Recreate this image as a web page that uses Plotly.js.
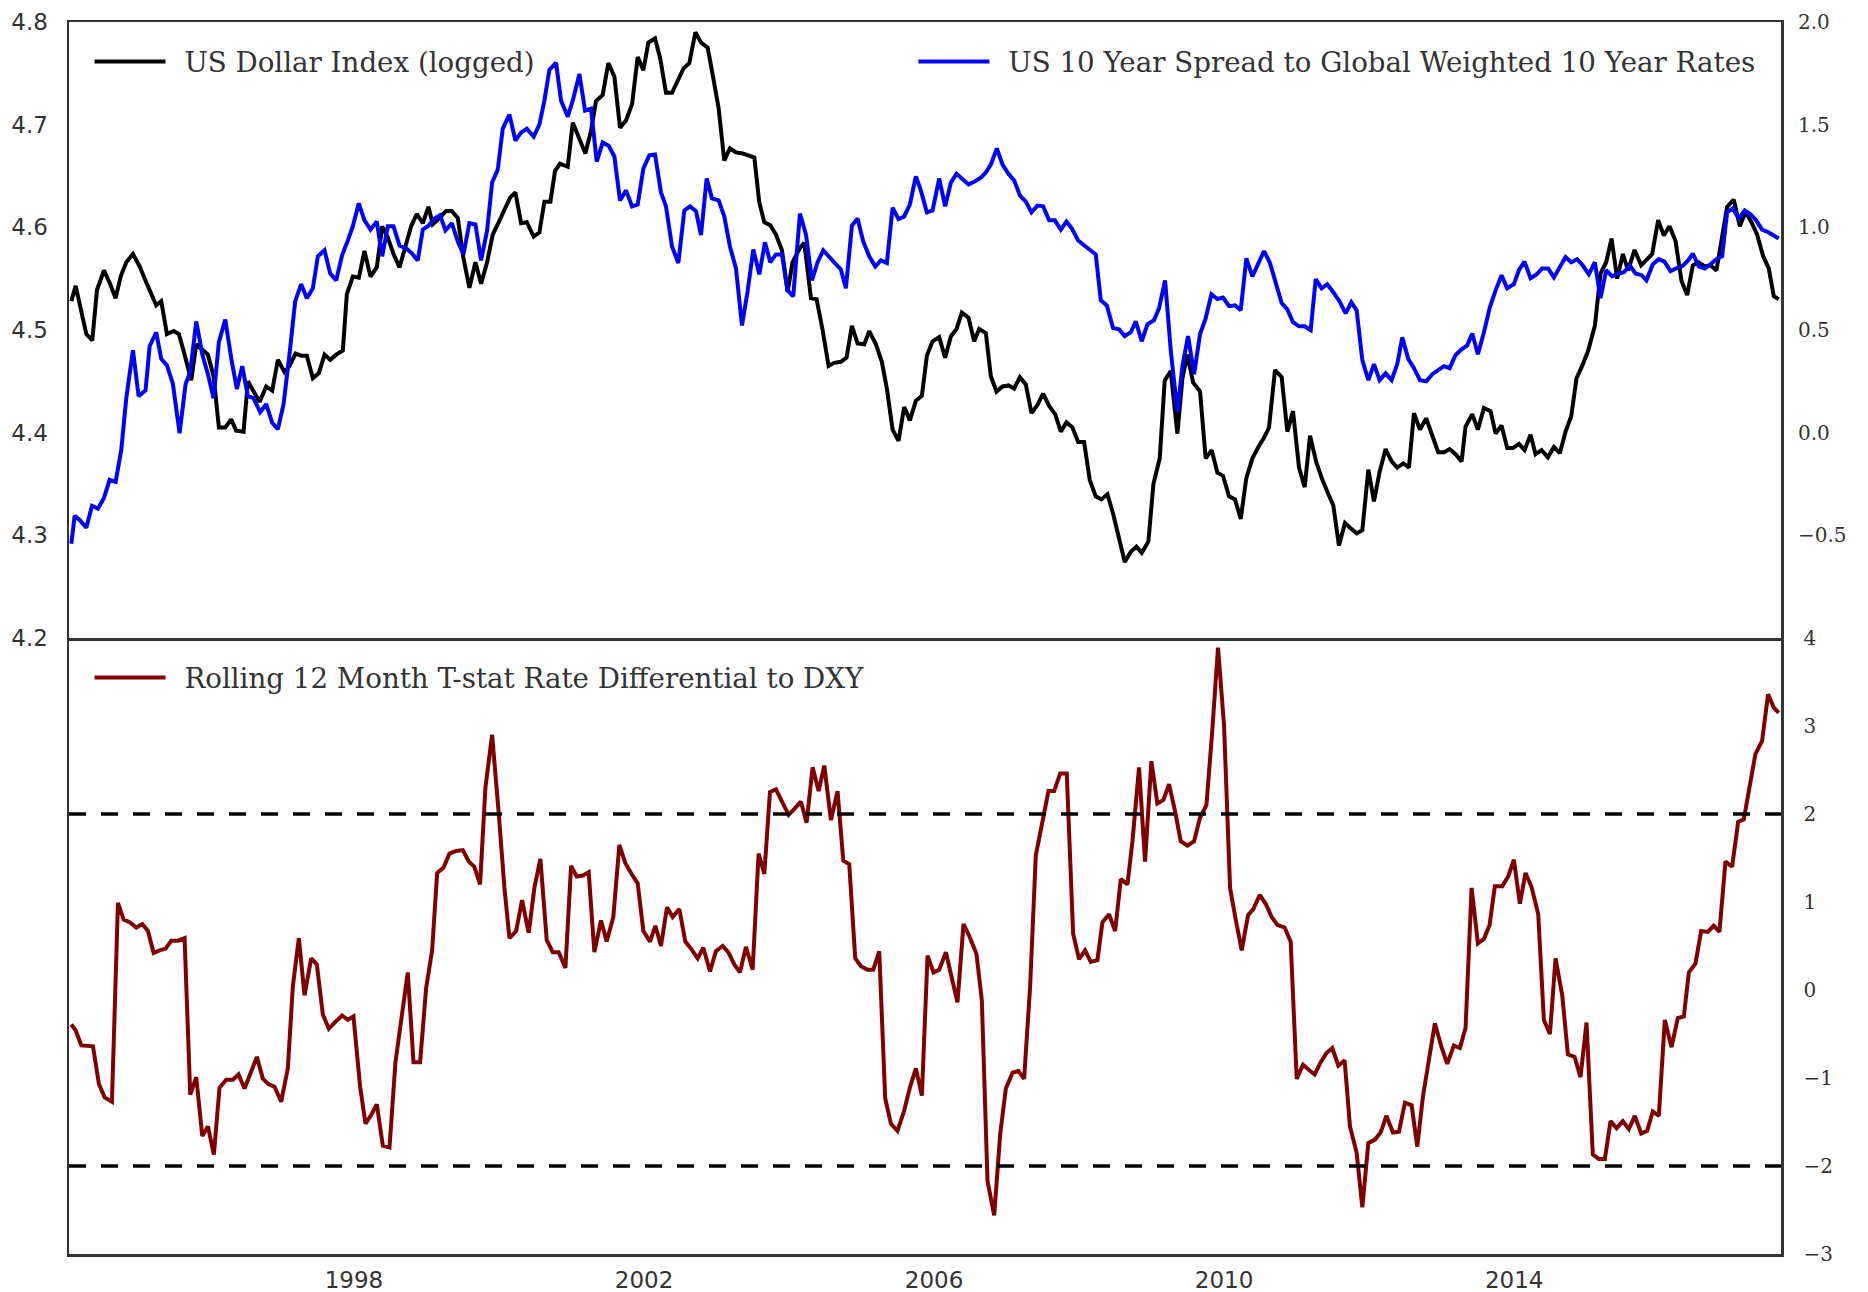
<!DOCTYPE html>
<html>
<head>
<meta charset="utf-8">
<script src="https://cdn.plot.ly/plotly-3.0.1.min.js"></script>
<style>
  html, body { margin: 0; padding: 0; background: #ffffff; }
  #chart { width: 1868px; height: 1292px; }
</style>
</head>
<body>
<div id="chart"></div>
<script>
// ---------------- DATA (decimal years) ----------------
const dxyYears = [
1994.102,1994.162,1994.309,1994.391,1994.456,1994.552,1994.630,1994.713,1994.782,1994.860,
1994.952,1995.044,1995.126,1995.205,1995.273,1995.342,1995.421,1995.512,1995.586,1995.664,
1995.756,1995.825,1995.986,1996.064,1996.137,1996.225,1996.307,1996.376,1996.477,1996.537,
1996.615,1996.698,1996.790,1996.872,1996.951,1997.042,1997.111,1997.194,1997.272,1997.350,
1997.433,1997.516,1997.594,1997.672,1997.755,1997.846,1997.902,1997.984,1998.067,1998.145,
1998.228,1998.315,1998.389,1998.467,1998.545,1998.628,1998.696,1998.788,1998.866,1998.949,
1999.027,1999.087,1999.179,1999.271,1999.349,1999.432,1999.510,1999.592,1999.675,1999.753,
1999.836,1999.914,1999.997,2000.075,
2000.153,2000.226,2000.305,2000.383,2000.479,2000.557,2000.626,2000.709,2000.773,2000.842,
2000.948,2001.017,2001.109,2001.191,2001.269,2001.338,2001.430,2001.508,2001.591,2001.669,
2001.752,2001.835,2001.913,2001.991,2002.060,2002.152,2002.225,2002.303,2002.386,2002.464,
2002.547,2002.625,2002.708,2002.786,2002.878,2002.956,2003.029,2003.107,2003.185,2003.268,
2003.360,2003.521,2003.590,2003.659,2003.741,2003.819,2003.902,2003.980,2004.049,2004.150,
2004.210,2004.302,2004.380,2004.463,2004.545,2004.623,2004.715,2004.793,2004.867,2004.945,
2005.037,2005.106,2005.198,2005.280,2005.349,2005.428,2005.510,2005.588,2005.666,2005.749,
2005.832,2005.901,2005.979,2006.071,
2006.153,2006.232,2006.310,2006.383,2006.475,2006.553,2006.622,2006.714,2006.783,2006.861,
2006.944,2007.026,2007.105,2007.183,2007.265,2007.343,2007.426,2007.504,2007.587,2007.670,
2007.748,2007.826,2007.909,2007.987,2008.069,2008.147,2008.230,2008.308,2008.391,2008.469,
2008.552,2008.630,2008.713,2008.791,2008.864,2008.956,2009.025,2009.112,2009.181,2009.264,
2009.356,2009.425,2009.494,2009.572,2009.668,2009.746,2009.829,2009.907,2009.985,2010.068,
2010.151,2010.229,2010.307,2010.390,2010.472,2010.550,2010.619,2010.702,2010.794,2010.872,
2010.950,2011.033,2011.111,2011.185,2011.272,2011.355,2011.433,2011.506,2011.584,2011.667,
2011.745,2011.828,2011.906,2011.989,
2012.067,2012.145,2012.227,2012.310,2012.388,2012.471,2012.549,2012.618,2012.701,2012.788,
2012.871,2012.953,2013.032,2013.110,2013.192,2013.275,2013.330,2013.422,2013.500,2013.583,
2013.675,2013.744,2013.826,2013.904,2013.983,2014.065,2014.143,2014.226,2014.295,2014.378,
2014.465,2014.548,2014.630,2014.709,2014.787,2014.860,2014.938,2015.021,2015.113,2015.159,
2015.191,2015.269,2015.343,2015.421,2015.499,2015.572,2015.660,2015.752,2015.825,2015.903,
2015.986,2016.064,2016.142,2016.225,2016.307,2016.386,2016.464,2016.546,2016.629,2016.707,
2016.790,2016.859,2016.937,2017.029,2017.112,2017.190,2017.272,2017.350,2017.433,2017.511,
2017.580,2017.649
];
const dxyValues = [
4.528,4.543,4.496,4.490,4.539,4.558,4.546,4.531,4.552,4.566,
4.574,4.562,4.548,4.535,4.524,4.528,4.496,4.499,4.496,4.476,
4.451,4.486,4.476,4.455,4.405,4.405,4.413,4.402,4.401,4.450,
4.441,4.430,4.445,4.441,4.471,4.459,4.465,4.477,4.475,4.475,
4.453,4.458,4.476,4.471,4.476,4.480,4.535,4.552,4.551,4.577,
4.552,4.561,4.601,4.590,4.574,4.561,4.578,4.601,4.613,4.604,
4.620,4.603,4.609,4.616,4.616,4.609,4.570,4.541,4.566,4.545,
4.566,4.593,4.605,4.616,
4.629,4.634,4.604,4.605,4.591,4.595,4.625,4.625,4.655,4.662,
4.659,4.702,4.686,4.672,4.694,4.723,4.729,4.760,4.747,4.697,
4.704,4.720,4.766,4.753,4.780,4.784,4.764,4.731,4.731,4.743,
4.755,4.760,4.790,4.780,4.775,4.745,4.716,4.665,4.677,4.673,
4.672,4.668,4.624,4.605,4.602,4.593,4.578,4.537,4.566,4.580,
4.585,4.531,4.530,4.500,4.465,4.468,4.469,4.473,4.504,4.487,
4.486,4.499,4.486,4.469,4.443,4.403,4.392,4.425,4.412,4.431,
4.436,4.475,4.489,4.493,
4.473,4.494,4.501,4.517,4.512,4.489,4.501,4.497,4.455,4.440,
4.445,4.446,4.443,4.454,4.447,4.419,4.427,4.438,4.426,4.418,
4.401,4.410,4.405,4.391,4.391,4.354,4.338,4.335,4.340,4.321,
4.298,4.274,4.284,4.289,4.283,4.294,4.350,4.375,4.451,4.460,
4.399,4.453,4.476,4.449,4.440,4.375,4.383,4.361,4.358,4.338,
4.335,4.316,4.356,4.375,4.386,4.395,4.405,4.461,4.454,4.401,
4.421,4.366,4.347,4.397,4.371,4.354,4.341,4.329,4.290,4.312,
4.307,4.302,4.305,4.364,
4.333,4.362,4.384,4.372,4.366,4.370,4.366,4.419,4.403,4.414,
4.397,4.381,4.381,4.384,4.379,4.372,4.406,4.418,4.403,4.424,
4.421,4.399,4.407,4.385,4.385,4.389,4.383,4.398,4.379,4.383,
4.376,4.386,4.380,4.401,4.416,4.453,4.465,4.480,4.504,4.535,
4.555,4.566,4.589,4.550,4.574,4.558,4.578,4.563,4.568,4.574,
4.607,4.592,4.601,4.587,4.548,4.534,4.563,4.566,4.562,4.563,
4.558,4.589,4.620,4.627,4.601,4.615,4.605,4.593,4.572,4.560,
4.533,4.530
];

const spreadYears = [
1994.102,1994.148,1994.217,1994.309,1994.387,1994.469,1994.552,1994.630,1994.713,1994.791,
1994.860,1994.952,1995.030,1995.126,1995.182,1995.273,1995.342,1995.421,1995.503,1995.595,
1995.678,1995.742,1995.825,1995.908,1995.986,1996.064,1996.137,1996.225,1996.307,1996.385,
1996.459,1996.537,1996.615,1996.707,1996.790,1996.872,1996.951,1997.029,1997.111,1997.189,
1997.272,1997.350,1997.433,1997.502,1997.594,1997.672,1997.755,1997.837,1997.915,1997.984,
1998.067,1998.145,1998.228,1998.315,1998.389,1998.467,1998.545,1998.628,1998.719,1998.802,
1998.880,1998.949,1999.027,1999.110,1999.188,1999.262,1999.349,1999.432,1999.510,1999.592,
1999.675,1999.753,1999.836,1999.905,1999.983,2000.052,2000.144,
2000.226,2000.305,2000.383,2000.479,2000.557,2000.626,2000.695,2000.787,2000.856,2000.948,
2001.017,2001.109,2001.187,2001.269,2001.348,2001.430,2001.513,2001.591,2001.669,2001.752,
2001.835,2001.913,2001.991,2002.073,2002.152,2002.234,2002.303,2002.386,2002.473,2002.556,
2002.634,2002.717,2002.786,2002.864,2002.937,2003.029,2003.107,2003.185,2003.268,2003.351,
2003.429,2003.507,2003.590,2003.668,2003.741,2003.819,2003.902,2003.980,2004.058,2004.150,
2004.233,2004.316,2004.394,2004.472,2004.555,2004.633,2004.715,2004.784,2004.867,2004.945,
2005.023,2005.106,2005.189,2005.267,2005.349,2005.428,2005.510,2005.588,2005.666,2005.749,
2005.818,2005.901,2005.979,2006.071,
2006.153,2006.232,2006.310,2006.392,2006.475,2006.553,2006.645,2006.714,2006.783,2006.866,
2006.944,2007.026,2007.105,2007.183,2007.265,2007.343,2007.426,2007.504,2007.587,2007.665,
2007.748,2007.826,2007.899,2007.987,2008.069,2008.147,2008.230,2008.299,2008.382,2008.469,
2008.552,2008.630,2008.713,2008.782,2008.864,2008.942,2009.034,2009.103,2009.186,2009.264,
2009.356,2009.425,2009.503,2009.586,2009.668,2009.746,2009.825,2009.907,2009.985,2010.068,
2010.151,2010.229,2010.307,2010.390,2010.472,2010.550,2010.629,2010.711,2010.794,2010.872,
2010.950,2011.033,2011.111,2011.194,2011.263,2011.345,2011.423,2011.506,2011.593,2011.676,
2011.754,2011.828,2011.906,2011.989,
2012.067,2012.145,2012.227,2012.310,2012.388,2012.457,2012.540,2012.618,2012.701,2012.788,
2012.871,2012.953,2013.032,2013.110,2013.192,2013.275,2013.353,2013.422,2013.500,2013.583,
2013.661,2013.744,2013.826,2013.904,2013.996,2014.065,2014.143,2014.226,2014.309,2014.387,
2014.470,2014.548,2014.630,2014.709,2014.787,2014.869,2014.947,2015.030,2015.113,2015.191,
2015.269,2015.352,2015.434,2015.513,2015.595,2015.673,2015.756,2015.825,2015.912,2015.995,
2016.073,2016.156,2016.234,2016.317,2016.399,2016.464,2016.546,2016.629,2016.707,2016.790,
2016.868,2016.937,2017.015,2017.098,2017.180,2017.259,2017.337,2017.419,2017.511,2017.649
];
const spreadValues = [
-0.541,-0.405,-0.425,-0.463,-0.356,-0.370,-0.318,-0.230,-0.240,-0.084,
0.168,0.402,0.178,0.207,0.421,0.489,0.359,0.328,0.237,-0.003,
0.237,0.295,0.542,0.382,0.285,0.168,0.441,0.551,0.363,0.213,
0.324,0.178,0.168,0.100,0.139,0.048,0.017,0.139,0.382,0.639,
0.723,0.655,0.703,0.859,0.888,0.775,0.742,0.865,0.936,1.005,
1.117,1.034,0.989,1.028,0.859,1.005,1.005,0.911,0.898,0.872,
0.839,0.989,1.008,1.043,1.059,0.985,1.020,0.931,0.868,1.020,
1.014,0.839,0.985,1.218,1.281,1.481,1.549,
1.423,1.461,1.481,1.442,1.500,1.617,1.767,1.802,1.617,1.539,
1.617,1.747,1.568,1.578,1.320,1.413,1.397,1.345,1.131,1.180,
1.102,1.111,1.286,1.351,1.355,1.170,1.102,0.907,0.826,1.082,
1.102,1.078,0.962,1.238,1.141,1.131,1.053,0.907,0.800,0.522,
0.690,0.892,0.771,0.927,0.830,0.868,0.868,0.693,0.664,1.067,
0.966,0.742,0.830,0.888,0.859,0.826,0.795,0.703,1.008,1.043,
0.931,0.859,0.810,0.839,0.826,1.096,1.040,1.053,1.111,1.248,
1.180,1.073,1.082,1.238,
1.102,1.218,1.261,1.234,1.209,1.222,1.242,1.267,1.306,1.384,
1.306,1.261,1.228,1.156,1.125,1.073,1.106,1.102,1.034,1.034,
0.989,1.028,0.995,0.936,0.911,0.892,0.868,0.645,0.620,0.509,
0.503,0.470,0.489,0.542,0.445,0.528,0.548,0.606,0.742,0.402,
0.100,0.324,0.470,0.285,0.480,0.557,0.674,0.651,0.658,0.616,
0.620,0.596,0.849,0.761,0.826,0.884,0.830,0.736,0.631,0.600,
0.538,0.518,0.518,0.499,0.748,0.703,0.723,0.684,0.639,0.581,
0.635,0.596,0.353,0.256,
0.334,0.256,0.289,0.256,0.334,0.464,0.359,0.314,0.256,0.250,
0.285,0.305,0.324,0.314,0.378,0.406,0.425,0.483,0.382,0.489,
0.606,0.693,0.767,0.703,0.723,0.791,0.833,0.752,0.771,0.800,
0.800,0.756,0.806,0.855,0.830,0.845,0.814,0.771,0.830,0.655,
0.791,0.761,0.775,0.781,0.814,0.775,0.767,0.742,0.820,0.845,
0.833,0.787,0.800,0.810,0.839,0.872,0.810,0.800,0.820,0.845,
0.859,1.073,1.092,1.043,1.082,1.063,1.034,0.989,0.975,0.946
];

const tstatYears = [
1994.102,1994.162,1994.240,1994.401,1994.483,1994.561,1994.662,1994.745,1994.823,1994.906,
1994.998,1995.081,1995.159,1995.237,1995.319,1995.402,1995.480,1995.572,1995.664,1995.742,
1995.825,1995.908,1995.986,1996.068,1996.146,1996.238,1996.330,1996.408,1996.491,1996.583,
1996.661,1996.744,1996.822,1996.905,1996.996,1997.088,1997.157,1997.240,1997.318,1997.410,
1997.488,1997.571,1997.653,1997.732,1997.837,1997.915,1997.993,1998.085,1998.159,1998.237,
1998.315,1998.398,1998.490,1998.572,1998.742,1998.821,1998.912,1998.995,1999.078,1999.147,
1999.234,1999.317,1999.409,1999.501,1999.583,1999.661,1999.739,1999.813,1999.905,1999.997,
2000.075,2000.144,
2000.236,2000.318,2000.410,2000.488,2000.571,2000.658,2000.741,2000.824,2000.916,2000.994,
2001.072,2001.155,2001.237,2001.315,2001.407,2001.485,2001.577,2001.660,2001.743,2001.835,
2001.913,2001.991,2002.083,2002.156,2002.234,2002.317,2002.395,2002.487,2002.570,2002.648,
2002.740,2002.818,2002.910,2002.992,2003.084,2003.162,2003.245,2003.323,2003.406,2003.498,
2003.580,2003.659,2003.737,2003.819,2003.902,2003.994,2004.086,2004.164,2004.242,2004.325,
2004.408,2004.486,2004.578,2004.669,2004.748,2004.830,2004.913,2004.991,2005.083,2005.161,
2005.244,2005.326,2005.405,2005.496,2005.588,2005.666,2005.749,2005.832,2005.910,2005.993,
2006.071,
2006.163,2006.241,2006.323,2006.406,2006.493,2006.585,2006.659,2006.737,2006.829,2006.912,
2006.990,2007.082,2007.164,2007.242,2007.325,2007.403,2007.495,2007.578,2007.656,2007.739,
2007.830,2007.918,2008.000,2008.083,2008.161,2008.253,2008.322,2008.414,2008.497,2008.575,
2008.667,2008.736,2008.827,2008.910,2008.997,2009.080,2009.163,2009.241,2009.324,2009.402,
2009.494,2009.586,2009.668,2009.756,2009.838,2009.916,2009.999,2010.082,2010.160,2010.243,
2010.330,2010.403,2010.491,2010.573,2010.656,2010.734,2010.835,2010.918,2011.001,2011.088,
2011.171,2011.249,2011.332,2011.410,2011.492,2011.575,2011.662,2011.736,2011.828,2011.906,
2011.989,
2012.080,2012.159,2012.237,2012.329,2012.411,2012.494,2012.586,2012.664,2012.742,2012.825,
2012.907,2012.995,2013.077,2013.169,2013.252,2013.330,2013.413,2013.500,2013.583,2013.661,
2013.734,2013.836,2013.918,2013.996,2014.079,2014.157,2014.240,2014.332,2014.410,2014.493,
2014.571,2014.663,2014.741,2014.833,2014.915,2014.998,2015.085,2015.168,2015.251,2015.329,
2015.412,2015.499,2015.582,2015.664,2015.752,2015.834,2015.912,2015.995,2016.078,2016.170,
2016.257,2016.340,2016.409,2016.500,2016.579,2016.670,2016.753,2016.831,2016.914,2017.006,
2017.089,2017.167,2017.249,2017.327,2017.419,2017.502,2017.580,2017.649
];
const tstatValues = [
-0.39,-0.46,-0.63,-0.64,-1.07,-1.22,-1.27,0.99,0.80,0.77,
0.71,0.75,0.67,0.42,0.45,0.47,0.56,0.56,0.59,-1.19,
-0.99,-1.66,-1.55,-1.87,-1.11,-1.02,-1.02,-0.96,-1.12,-0.91,
-0.76,-1.01,-1.07,-1.10,-1.27,-0.89,0.04,0.59,-0.06,0.36,
0.29,-0.28,-0.44,-0.37,-0.29,-0.34,-0.30,-1.10,-1.52,-1.42,
-1.30,-1.77,-1.79,-0.82,0.20,-0.82,-0.82,0.02,0.45,1.33,
1.39,1.55,1.58,1.59,1.46,1.40,1.20,2.30,2.90,2.00,
1.16,0.59,
0.67,1.02,0.65,1.16,1.49,0.57,0.43,0.43,0.25,1.41,
1.29,1.30,1.34,0.43,0.79,0.55,0.83,1.65,1.44,1.31,
1.21,0.67,0.55,0.73,0.50,0.94,0.83,0.92,0.55,0.47,
0.36,0.48,0.21,0.44,0.50,0.43,0.29,0.20,0.49,0.23,
1.55,1.32,2.25,2.28,2.14,1.99,2.07,2.14,1.90,2.53,
2.26,2.55,1.93,2.26,1.47,1.43,0.36,0.27,0.23,0.23,
0.44,-1.23,-1.52,-1.60,-1.37,-1.11,-0.89,-1.20,0.39,0.20,
0.23,
0.43,0.15,-0.14,0.75,0.60,0.41,-0.12,-2.17,-2.56,-1.64,
-1.12,-0.94,-0.92,-1.01,0.04,1.53,1.94,2.26,2.26,2.46,
2.46,0.64,0.35,0.45,0.32,0.34,0.77,0.86,0.67,1.26,
1.20,1.69,2.53,1.46,2.60,2.12,2.16,2.34,2.03,1.69,
1.64,1.69,1.96,2.10,2.96,3.89,3.01,1.16,0.80,0.45,
0.85,0.92,1.08,0.98,0.83,0.74,0.71,0.55,-1.01,-0.85,
-0.91,-0.96,-0.82,-0.72,-0.66,-0.86,-0.80,-1.55,-1.85,-2.47,
-1.74,
-1.70,-1.62,-1.43,-1.62,-1.61,-1.28,-1.31,-1.78,-1.21,-0.79,
-0.38,-0.64,-0.84,-0.63,-0.66,-0.43,1.16,0.53,0.58,0.74,
1.18,1.18,1.29,1.48,0.98,1.33,1.17,0.86,-0.34,-0.50,
0.36,-0.06,-0.73,-0.76,-0.99,-0.37,-1.87,-1.92,-1.92,-1.49,
-1.57,-1.49,-1.58,-1.43,-1.63,-1.60,-1.38,-1.43,-0.34,-0.65,
-0.32,-0.30,0.20,0.30,0.67,0.66,0.73,0.66,1.46,1.40,
1.91,1.94,2.30,2.68,2.83,3.36,3.21,3.15
];

const thresholdLevels = [2, -2];
const yearTicks = [1998, 2002, 2006, 2010, 2014];
const yearTickLabels = ['1998', '2002', '2006', '2010', '2014'];
const dxyTicks = [4.2, 4.3, 4.4, 4.5, 4.6, 4.7, 4.8];
const spreadTicks = [-0.5, 0.0, 0.5, 1.0, 1.5, 2.0];
const tstatTicks = [-3, -2, -1, 0, 1, 2, 3, 4];
const seriesNames = [
  'US Dollar Index (logged)',
  'US 10 Year Spread to Global Weighted 10 Year Rates',
  'Rolling 12 Month T-stat Rate Differential to DXY'
];

// ---------------- STYLE ----------------
const FRAME = '#333333';
const TEXT = '#333333';
const SANS = 'DejaVu Sans, sans-serif';
const SERIF = 'DejaVu Serif, serif';
const xRange = [1994.07, 2017.68];
const LEGEND_GAP = '\u2002'; // visual gap between legend line and its label

const frameAxis = {
  showgrid: false, zeroline: false, showline: true, mirror: true,
  linecolor: FRAME, linewidth: 2.5, ticks: ''
};

const traces = [
  { type: 'scatter', mode: 'lines', name: LEGEND_GAP + seriesNames[0], x: dxyYears, y: dxyValues,
    xaxis: 'x2', yaxis: 'y3', line: { color: '#000000', width: 4 }, legend: 'legend' },
  { type: 'scatter', mode: 'lines', name: LEGEND_GAP + seriesNames[1], x: spreadYears, y: spreadValues,
    xaxis: 'x2', yaxis: 'y4', line: { color: '#0000ff', width: 4 }, legend: 'legend2' },
  { type: 'scatter', mode: 'lines', name: LEGEND_GAP + seriesNames[2], x: tstatYears, y: tstatValues,
    xaxis: 'x', yaxis: 'y', line: { color: '#800000', width: 4 }, legend: 'legend3' }
];

const legendBase = {
  bgcolor: 'rgba(0,0,0,0)', borderwidth: 0,
  font: { family: SERIF, size: 27.7, color: TEXT },
  itemwidth: 71, yanchor: 'middle', orientation: 'v'
};

const layout = {
  width: 1868, height: 1292,
  margin: { l: 69, r: 87, t: 22, b: 38, pad: 0 },
  paper_bgcolor: '#ffffff', plot_bgcolor: '#ffffff',
  showlegend: true,
  xaxis: Object.assign({}, frameAxis, {
    domain: [0, 1], anchor: 'y', range: xRange, mirror: false,
    tickvals: yearTicks, ticktext: yearTickLabels,
    tickfont: { family: SANS, size: 23, color: TEXT }, ticklabelstandoff: 4
  }),
  yaxis: Object.assign({}, frameAxis, {
    domain: [0, 0.5], anchor: 'x', side: 'right', range: [-3, 4],
    tickvals: tstatTicks, tickformat: 'd',
    tickfont: { family: SERIF, size: 20, color: TEXT }, ticklabelstandoff: 16
  }),
  xaxis2: Object.assign({}, frameAxis, {
    domain: [0, 1], anchor: 'y3', range: xRange, matches: 'x', showticklabels: false
  }),
  yaxis3: Object.assign({}, frameAxis, {
    domain: [0.5, 1], anchor: 'x2', side: 'left', range: [4.2, 4.8],
    tickvals: dxyTicks, tickformat: '.1f',
    tickfont: { family: SANS, size: 23, color: TEXT }, ticklabelstandoff: 14
  }),
  yaxis4: {
    overlaying: 'y3', anchor: 'x2', side: 'right', range: [-1, 2],
    tickvals: spreadTicks, tickformat: '.1f', ticks: '',
    showgrid: false, zeroline: false, showline: false,
    tickfont: { family: SERIF, size: 20, color: TEXT }, ticklabelstandoff: 16
  },
  shapes: thresholdLevels.map(v => ({
    type: 'line', xref: 'x domain', x0: 0, x1: 1, yref: 'y', y0: v, y1: v,
    line: { color: '#000000', width: 3.5, dash: '17px,15px' }, layer: 'above'
  })),
  legend: Object.assign({}, legendBase, { x: 0.012, xanchor: 'left', y: 0.9675 }),
  legend2: Object.assign({}, legendBase, { x: 0.988, xanchor: 'right', y: 0.9675 }),
  legend3: Object.assign({}, legendBase, { x: 0.012, xanchor: 'left', y: 0.4675 })
};

Plotly.newPlot('chart', traces, layout, { displayModeBar: false, staticPlot: true });
</script>
</body>
</html>
